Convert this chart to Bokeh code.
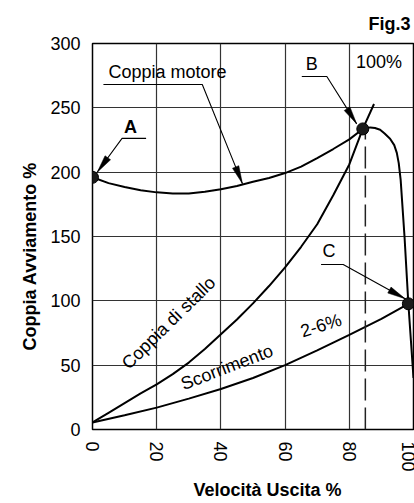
import math
from bokeh.plotting import figure
from bokeh.models import Range1d, FixedTicker, Label, ColumnDataSource, Title
from bokeh.core.properties import value
from bokeh.embed import file_html
from bokeh.resources import INLINE

FONT = "Liberation Sans"

# ---- data ----
x_ticks = [0, 20, 40, 60, 80, 100]
y_ticks = [0, 50, 100, 150, 200, 250, 300]

torque_x = [0, 5, 10, 15, 20, 25, 30, 35, 40, 45, 50, 55, 60, 65, 70, 75, 80,
            84.2, 86.5, 88, 89.6, 91, 92.7, 94, 94.8, 95.4, 96, 97.2, 98.4, 100]
torque_y = [196, 191.5, 188.5, 186, 184.3, 183.5, 183.5, 184.8, 186.8, 189.3,
            192.5, 195.5, 199.3, 204.3, 211, 218, 225.5,
            233.6, 234.8, 234.3, 233, 230, 226, 221, 215, 207, 194, 150, 97.7, 40]

stall_x = [0, 5, 10, 15, 20, 25, 30, 35, 40, 45, 50, 55, 60, 65, 70, 75, 80, 84.2, 87.7]
stall_y = [5.5, 13, 20.5, 28, 35, 43, 52, 62.5, 74, 85.5, 98, 111.5, 126, 142,
           159.5, 182, 206, 233.6, 253]

slip_x = [0, 10, 20, 30, 40, 50, 60, 70, 80, 90, 98.4]
slip_y = [5.5, 11, 17, 24, 31.5, 40, 50, 61.5, 73.5, 86, 97.7]

# marked points A, B, C
pt_x = [0, 84.2, 98.4]
pt_y = [196, 233.6, 97.7]

# dashed line at rated speed
dash_x = [85, 85]
dash_y = [0, 233.6]

# leader lines: underline start/end then arrow tip
leaders = {
    "A": ([16.7, 9.2], [226.3, 226.3], (1.46, 199.9)),
    "motore": ([3.4, 34.2], [268.1, 268.1], (46.7, 191.1)),
    "B": ([65.2, 73.0], [274.3, 274.3], (82.3, 237.5)),
    "C": ([71.2, 78.1], [128.2, 128.2], (97.4, 101.6)),
}

# texts
reg_text = ["Coppia motore", "100%", "B", "C"]
reg_x = [5.0, 82.1, 68.3, 73.7]
reg_y = [278.2, 286.0, 284.0, 139.1]
reg_align = ["left", "left", "center", "center"]

rot_text = ["Coppia di stallo", "Scorrimento", "2-6%"]
rot_x = [23.7, 41.9, 71.2]
rot_y = [82.9, 48.4, 80.8]
rot_deg = [44.5, 21.0, 17.0]

# ---- figure ----
W, H = 414, 503
BL, BR, BT, BB = 92, 1, 43, 74
SX = (W - BL - BR) / 100.0
SY = (H - BT - BB) / 300.0

p = figure(width=W, height=H, x_range=Range1d(0, 100), y_range=Range1d(0, 300),
           output_backend="svg", toolbar_location=None, title=None,
           min_border_left=BL, min_border_right=BR, min_border_top=BT,
           min_border_bottom=BB)
p.background_fill_color = "white"
p.border_fill_color = "white"
p.outline_line_color = "black"
p.outline_line_width = 1.5

for ax in (p.xaxis, p.yaxis):
    ax.axis_line_color = None
    ax.major_tick_out = 0
    ax.major_tick_in = 0
    ax.minor_tick_out = 0
    ax.minor_tick_in = 0
    ax.major_label_text_font = FONT
    ax.major_label_text_font_size = "18px"
    ax.major_label_text_color = "black"
    ax.major_label_standoff = 12
p.xaxis.ticker = FixedTicker(ticks=x_ticks)
p.yaxis.ticker = FixedTicker(ticks=y_ticks)
p.xaxis.major_label_orientation = "vertical"

for g in (p.xgrid, p.ygrid):
    g.grid_line_color = "#333333"
    g.grid_line_width = 1.2
    g.grid_line_alpha = 1.0

# curves
p.line(torque_x, torque_y, line_color="black", line_width=2)
p.line(stall_x, stall_y, line_color="black", line_width=2)
p.line(slip_x, slip_y, line_color="black", line_width=2)
p.line(dash_x, dash_y, line_color="#222222", line_width=1.5, line_dash="22 7")


def head(x0, y0, x1, y1, length=18.0, half=3.4):
    dx = (x1 - x0) * SX
    dy = (y1 - y0) * SY
    L = math.hypot(dx, dy)
    ux, uy = dx / L, dy / L
    bx, by = -ux * length, -uy * length
    nx, ny = -uy * half, ux * half
    xs = [x1, x1 + (bx + nx) / SX, x1 + (bx - nx) / SX]
    ys = [y1, y1 + (by + ny) / SY, y1 + (by - ny) / SY]
    return xs, ys


hx, hy = [], []
for key, (ux, uy, tip) in leaders.items():
    lx = ux + [tip[0]]
    ly = uy + [tip[1]]
    p.line(lx, ly, line_color="black", line_width=1.1)
    xs, ys = head(ux[-1], uy[-1], tip[0], tip[1])
    hx.append(xs)
    hy.append(ys)
p.patches(hx, hy, fill_color="black", line_color="black", line_width=0.5)

p.scatter(pt_x, pt_y, size=12, fill_color="#1a1a1a", line_color="black")

src_reg = ColumnDataSource(dict(x=reg_x, y=reg_y, t=reg_text, a=reg_align))
p.text(x="x", y="y", text="t", text_align="a", source=src_reg,
       text_baseline="middle", text_font=value(FONT), text_font_size="18px",
       text_color="black")

p.text(x=[11.8], y=[235.4], text=["A"], text_align="center",
       text_baseline="middle", text_font=value(FONT), text_font_size="18px",
       text_font_style="bold", text_color="black")

src_rot = ColumnDataSource(dict(x=rot_x, y=rot_y, t=rot_text,
                                ang=[math.radians(d) for d in rot_deg]))
p.text(x="x", y="y", text="t", angle="ang", source=src_rot,
       text_align="center", text_baseline="middle", text_font=value(FONT),
       text_font_size="18px", text_color="black")

# titles placed in the side panels (outside the frame)
p.add_layout(Title(text="Coppia Avviamento %", align="left", offset=79,
                   standoff=16, text_font=FONT, text_font_size="18px",
                   text_font_style="bold", text_color="black"), "left")
p.add_layout(Title(text="Velocità Uscita %", align="left", offset=101,
                   standoff=7, text_font=FONT, text_font_size="18px",
                   text_font_style="bold", text_color="black"), "below")
p.add_layout(Title(text="Fig.3", align="right", offset=3,
                   standoff=19, text_font=FONT, text_font_size="18px",
                   text_font_style="bold", text_color="black"), "above")

open("out.html", "w").write(file_html(p, INLINE))
